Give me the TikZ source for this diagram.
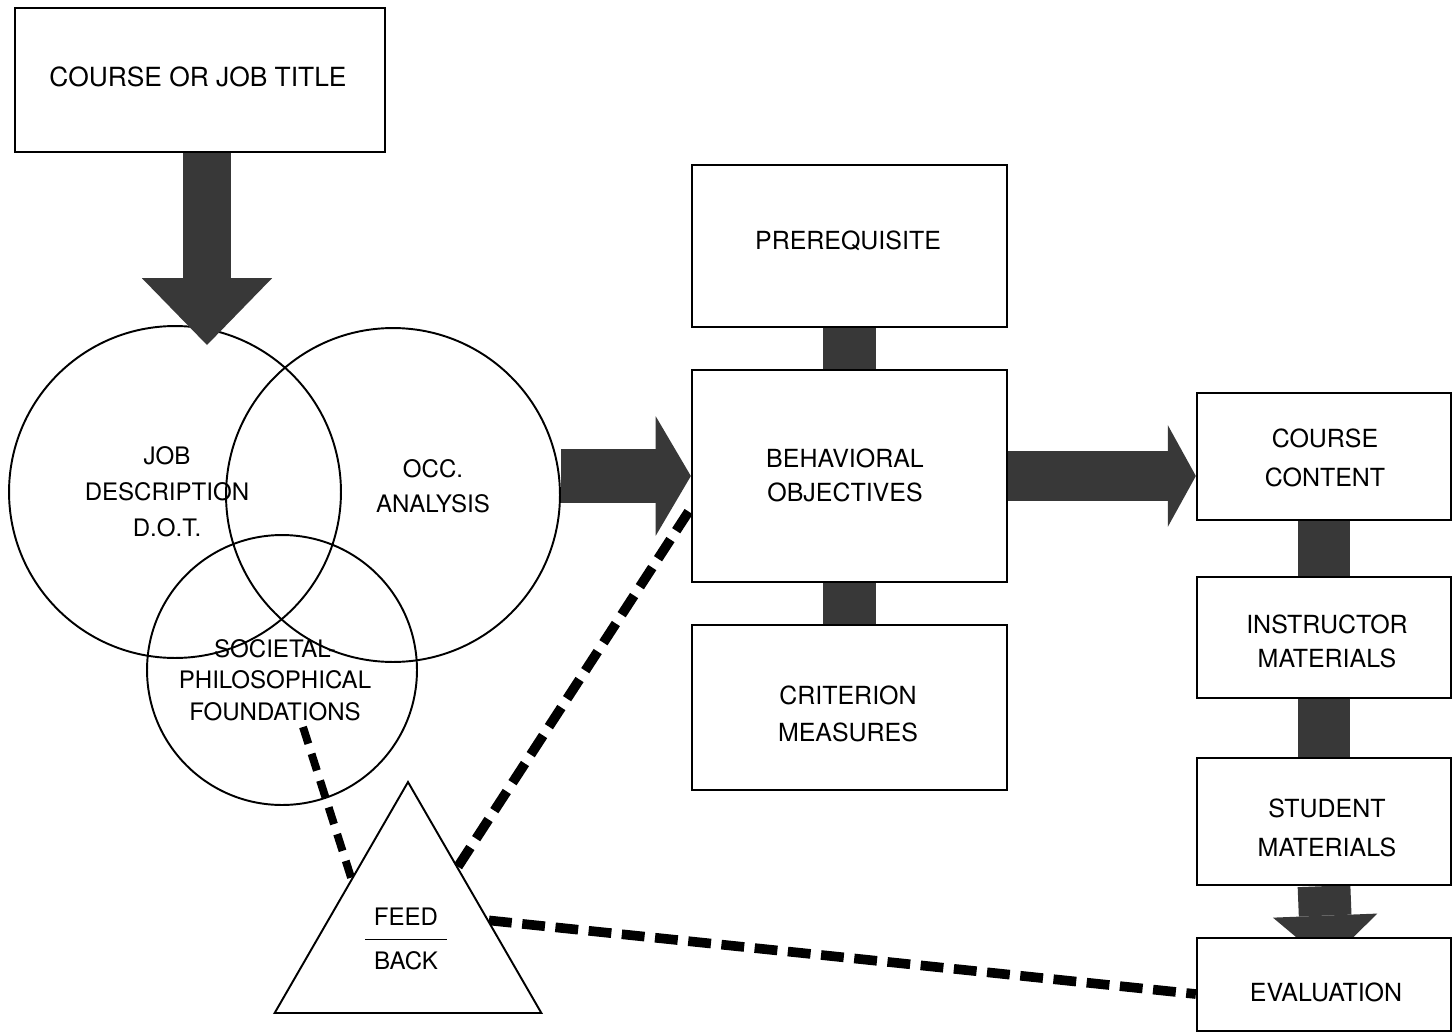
\documentclass[tikz,border=0pt]{standalone}
\usepackage{fontspec}
\setmainfont{TeX Gyre Heros}
\usetikzlibrary{arrows.meta,shapes.geometric,fit,calc,backgrounds}
\begin{document}
\begin{tikzpicture}[x=0.02cm,y=-0.02cm,
  box/.style={draw,line width=1.3pt,fill=white,inner sep=0pt},
  txt/.style={align=center,inner sep=0pt,font=\fontsize{14.2}{#1}\selectfont},
  txt/.default=20,
  ring/.style={draw,circle,line width=1.1pt,inner sep=0pt},
  lbl/.style={align=center,inner sep=0pt},
  fat/.style={draw=black!78},
  fbdash/.style={draw=black,line width=5.5pt,dash pattern=on 13pt off 6pt},
  thindash/.style={draw=black,line width=4.5pt,dash pattern=on 10pt off 6pt}
]
\begin{pgfonlayer}{background}
\fill[white] (0,0) rectangle (1453,1034);
\end{pgfonlayer}
\useasboundingbox (0,0) rectangle (1453,1034);

% boxes
\node[box, fit={(15,8)(385,152)}] (title) {};
\node[box, fit={(692,165)(1007,327)}] (pr) {};
\node[box, fit={(692,370)(1007,582)}] (bo) {};
\node[box, fit={(692,625)(1007,790)}] (cr) {};
\node[box, fit={(1197,393)(1451,520)}] (cc) {};
\node[box, fit={(1197,577)(1451,698)}] (im) {};
\node[box, fit={(1197,758)(1451,885)}] (sm) {};
\node[box, fit={(1197,938)(1451,1031)}] (ev) {};

\node[inner sep=0pt, font=\fontsize{15}{18}\selectfont] (titlet) at (198,77) {COURSE OR JOB TITLE};
\node[txt] (prt) at (848,241) {PREREQUISITE};
\node[txt=19.3] (bot) at (845,475) {BEHAVIORAL\\OBJECTIVES};
\node[txt=21] (crt) at (848,713.5) {CRITERION\\MEASURES};
\node[txt=22.1] (cct) at (1325,457.5) {COURSE\\CONTENT};
\node[txt=19.8] (imt) at (1327,641.5) {INSTRUCTOR\\MATERIALS};
\node[txt=22.1] (smt) at (1327,827.5) {STUDENT\\MATERIALS};
\node[txt] (evt) at (1326,992) {EVALUATION};

% circles
\node[ring, minimum size=6.64cm] (c1) at (175,492) {};
\node[ring, minimum size=6.68cm] (c2) at (393,495) {};
\node[ring, minimum size=5.40cm] (c3) at (282,670) {};
\node[lbl, font=\fontsize{13.7}{20.5}\selectfont] (jd) at (167,492) {JOB\\DESCRIPTION\\D.O.T.};
\node[lbl, font=\fontsize{13.7}{20}\selectfont] (oa) at (433,486) {OCC.\\ANALYSIS};
\node[lbl, font=\fontsize{13.7}{18}\selectfont] (soc) at (275,680) {SOCIETAL-\\PHILOSOPHICAL\\FOUNDATIONS};

% feedback triangle
\node[draw, regular polygon, regular polygon sides=3, minimum size=6.16cm, line width=1.1pt, fill=white, inner sep=0pt] (fb) at (408,936) {};
\node[inner sep=0pt, font=\fontsize{13.7}{16}\selectfont] (fbt) at (406,942)
  {\begin{tabular}{@{\hspace{5pt}}c@{\hspace{5pt}}}FEED\\[3pt]\hline\rule{0pt}{17pt}BACK\end{tabular}};

% big arrows on top
\coordinate (t1) at (207,345);
\draw[fat, line width=27.8pt, -{Triangle[width=74pt,length=38pt,line width=0pt]}] (title.south -| t1) -- (t1);
\draw[fat, line width=31.2pt, -{Triangle[width=68pt,length=20pt,line width=0pt]}] (c2.east |- bo.west) -- (bo.west);

\begin{pgfonlayer}{background}
\draw[fat, line width=28.3pt, -{Triangle[width=58pt,length=16pt,line width=0pt]}] (bo.east) -- (bo.east -| cc.west);
\draw[fat, line width=30.6pt] (pr.south) -- (bo.north);
\draw[fat, line width=30.6pt] (bo.south) -- (cr.north);
\draw[fat, line width=30pt] (cc.south) -- (im.north);
\draw[fat, line width=30pt] (im.south) -- (sm.north);
\coordinate (t4) at (1327,963);
\draw[fat, line width=30pt, -{Triangle[width=59.5pt,length=27pt,line width=0pt]}] (sm.south) -- (t4);
% dashed feedback lines
\coordinate (d1) at (303,727);
\draw[thindash] (d1) -- ($(fb.corner 1)!0.42!(fb.corner 2)$);
\draw[fbdash] ($(fb.corner 1)!0.37!(fb.corner 3)$) -- ($(bo.north west)!0.65!(bo.south west)$);
\draw[fbdash] ($(fb.corner 1)!0.6!(fb.corner 3)$) -- ($(ev.north west)!0.6!(ev.south west)$);
\end{pgfonlayer}
\end{tikzpicture}
\end{document}
